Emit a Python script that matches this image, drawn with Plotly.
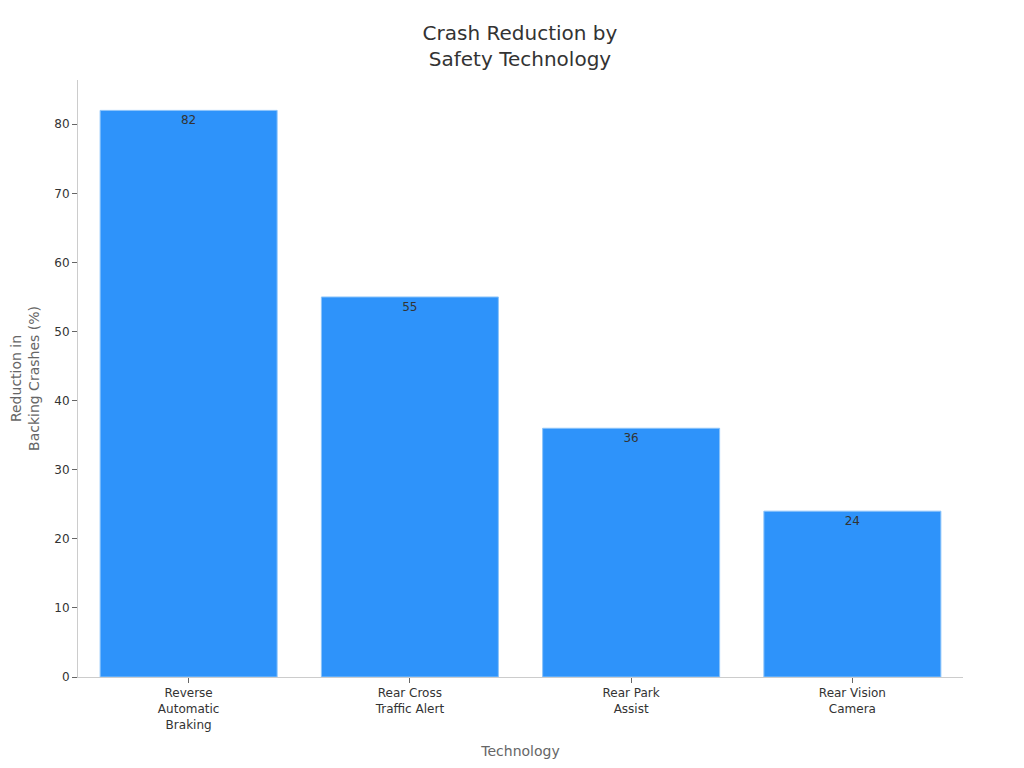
import plotly.graph_objects as go

technologies = ["Reverse<br>Automatic<br>Braking", "Rear Cross<br>Traffic Alert",
                "Rear Park<br>Assist", "Rear Vision<br>Camera"]
reduction = [82, 55, 36, 24]

fig = go.Figure(
    go.Bar(
        x=technologies,
        y=reduction,
        text=reduction,
        textposition="inside",
        insidetextanchor="end",
        textfont=dict(color="#333333", size=12),
        marker=dict(color="#2E93FA", line=dict(color="#8CC4FA", width=1)),
    )
)

fig.update_layout(
    width=1024, height=768,
    template="simple_white",
    font=dict(family="DejaVu Sans", color="#333333"),
    title=dict(text="Crash Reduction by<br>Safety Technology", x=0.5, xanchor="center",
               y=0.958, yanchor="top", font=dict(size=20, color="#333333")),
    margin=dict(l=70, r=69, t=72, b=99),
    bargap=0.2,
    showlegend=False,
)
fig.update_xaxes(title=dict(text="Technology", font=dict(size=14, color="#666666")),
                 linecolor="#cccccc", ticks="outside", tickcolor="#666666",
                 tickfont=dict(size=12, color="#333333"), automargin=False)
fig.update_yaxes(title=dict(text="Reduction in<br>Backing Crashes (%)", font=dict(size=14, color="#666666")),
                 range=[0, 86.4], dtick=10, linecolor="#cccccc", ticks="outside",
                 tickcolor="#666666", tickfont=dict(size=12, color="#333333"), automargin=False)

fig.write_html("out.html")
